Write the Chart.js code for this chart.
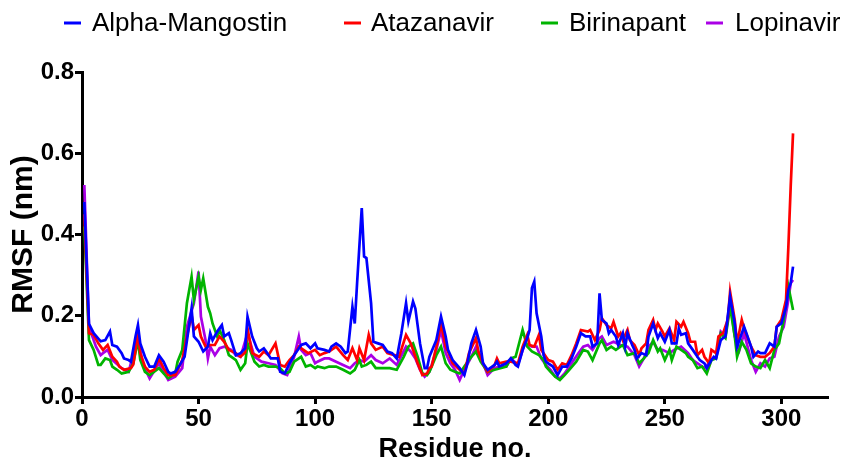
<!DOCTYPE html>
<html>
<head>
<meta charset="utf-8">
<script src="https://cdn.jsdelivr.net/npm/chart.js@4.4.1/dist/chart.umd.min.js"></script>
<style>
  body { margin: 0; background: #fff; }
</style>
</head>
<body>
<canvas id="rmsfChart" width="844" height="463"></canvas>
<script>
// residue no. , RMSF (nm)
const alphaMangostin = [[1,.48],[3,.18],[5,.157],[8,.137],[10,.14],[12,.161],[13,.128],[15,.124],[17,.108],[18,.095],[20,.091],[21,.087],[23,.15],[24,.177],[25,.132],[27,.099],[29,.075],[31,.075],[33,.103],[35,.087],[37,.062],[38,.058],[40,.062],[42,.079],[44,.099],[47,.218],[48,.149],[50,.136],[52,.112],[54,.124],[55,.157],[56,.14],[58,.161],[60,.177],[61,.149],[63,.157],[64,.14],[66,.103],[68,.108],[70,.12],[71,.198],[73,.149],[75,.12],[76,.112],[78,.12],[79,.112],[81,.095],[84,.095],[85,.062],[87,.058],[89,.083],[91,.103],[94,.128],[96,.132],[98,.12],[100,.132],[101,.12],[104,.116],[106,.112],[107,.124],[109,.132],[111,.124],[113,.108],[114,.112],[116,.222],[117,.181],[118,.28],[120,.465],[121,.346],[122,.342],[124,.231],[125,.136],[127,.132],[129,.128],[131,.112],[133,.108],[135,.095],[137,.157],[139,.231],[140,.186],[142,.235],[143,.218],[145,.132],[147,.071],[148,.071],[149,.099],[152,.14],[154,.198],[156,.149],[157,.116],[159,.091],[162,.071],[164,.054],[165,.075],[167,.132],[169,.165],[171,.124],[172,.083],[174,.067],[177,.079],[178,.087],[179,.075],[182,.083],[184,.095],[186,.079],[187,.075],[189,.116],[191,.145],[192,.165],[193,.268],[194,.284],[195,.206],[197,.149],[198,.103],[199,.087],[200,.083],[202,.075],[204,.054],[206,.075],[208,.075],[210,.095],[212,.124],[214,.157],[216,.149],[218,.149],[219,.124],[221,.132],[222,.255],[223,.19],[225,.181],[226,.157],[227,.165],[229,.149],[230,.128],[232,.157],[233,.124],[234,.157],[236,.128],[237,.116],[238,.095],[240,.108],[242,.103],[243,.149],[245,.181],[247,.145],[248,.157],[250,.136],[252,.165],[253,.132],[255,.132],[256,.169],[257,.153],[259,.157],[260,.132],[262,.116],[264,.099],[265,.091],[267,.083],[268,.071],[270,.091],[271,.099],[272,.095],[274,.14],[275,.145],[276,.149],[278,.247],[280,.181],[281,.124],[282,.14],[284,.173],[285,.157],[287,.124],[288,.099],[290,.112],[291,.108],[293,.108],[295,.132],[297,.124],[298,.173],[300,.181],[302,.222],[303,.264],[304,.28],[305,.321]];

const atazanavir = [[1,.45],[3,.157],[5,.153],[7,.132],[9,.116],[11,.128],[13,.099],[15,.087],[16,.075],[18,.067],[21,.071],[22,.08],[24,.157],[25,.108],[27,.075],[29,.062],[31,.067],[33,.095],[35,.071],[37,.054],[40,.054],[43,.091],[45,.149],[47,.202],[48,.165],[50,.177],[51,.149],[53,.124],[55,.128],[57,.128],[59,.149],[61,.136],[63,.116],[66,.108],[68,.099],[70,.11],[71,.169],[73,.108],[76,.099],[78,.112],[80,.103],[83,.132],[85,.079],[87,.075],[89,.091],[91,.103],[93,.124],[95,.116],[97,.108],[100,.116],[102,.103],[104,.108],[106,.112],[109,.124],[112,.103],[114,.091],[116,.12],[118,.091],[119,.12],[121,.091],[123,.153],[124,.132],[126,.116],[129,.124],[131,.108],[134,.103],[136,.099],[139,.153],[141,.132],[142,.116],[144,.083],[146,.054],[148,.058],[149,.071],[150,.075],[152,.124],[154,.181],[156,.124],[157,.112],[159,.083],[162,.067],[164,.058],[166,.108],[169,.145],[170,.112],[172,.083],[174,.062],[177,.079],[178,.095],[179,.083],[182,.087],[184,.087],[187,.083],[189,.124],[191,.153],[192,.128],[194,.124],[196,.153],[197,.116],[199,.099],[200,.091],[202,.087],[204,.067],[206,.083],[208,.079],[210,.103],[212,.132],[214,.165],[217,.161],[218,.165],[220,.14],[222,.165],[223,.194],[225,.177],[227,.169],[228,.185],[230,.149],[231,.157],[232,.14],[234,.165],[235,.14],[237,.128],[239,.103],[240,.12],[242,.132],[243,.165],[245,.19],[246,.165],[247,.181],[249,.161],[250,.149],[252,.169],[254,.14],[255,.185],[257,.173],[258,.185],[260,.157],[261,.136],[263,.136],[264,.103],[266,.116],[267,.099],[269,.083],[270,.116],[272,.108],[273,.149],[275,.157],[277,.19],[278,.259],[280,.19],[281,.132],[283,.19],[284,.169],[287,.124],[289,.103],[291,.099],[293,.099],[295,.108],[297,.124],[298,.173],[300,.19],[302,.239],[303,.37],[304,.518],[305,.649]];

const birinapant = [[1,.42],[3,.14],[5,.116],[7,.079],[8,.079],[10,.095],[12,.091],[13,.075],[15,.067],[17,.058],[20,.062],[22,.083],[24,.14],[25,.091],[27,.062],[29,.054],[33,.071],[35,.058],[37,.046],[40,.058],[41,.087],[43,.116],[45,.231],[47,.296],[48,.239],[50,.296],[51,.264],[52,.292],[54,.222],[55,.206],[56,.181],[58,.149],[59,.165],[61,.14],[63,.103],[65,.095],[66,.091],[68,.067],[70,.083],[71,.132],[74,.087],[76,.075],[78,.079],[80,.075],[83,.075],[85,.071],[87,.058],[89,.062],[91,.087],[94,.099],[96,.075],[98,.079],[100,.071],[101,.075],[104,.071],[106,.075],[109,.075],[112,.067],[115,.058],[117,.067],[119,.091],[120,.075],[122,.079],[124,.087],[126,.071],[129,.071],[132,.071],[135,.067],[138,.099],[140,.124],[142,.132],[144,.099],[146,.058],[148,.054],[149,.062],[150,.075],[152,.103],[154,.124],[156,.083],[158,.067],[160,.062],[162,.058],[164,.075],[167,.099],[169,.112],[171,.087],[174,.062],[177,.067],[182,.075],[184,.095],[186,.099],[189,.165],[191,.124],[193,.112],[196,.103],[198,.091],[199,.075],[201,.062],[203,.05],[205,.042],[207,.054],[209,.067],[212,.087],[215,.116],[217,.112],[219,.091],[222,.132],[223,.14],[225,.116],[227,.124],[229,.116],[232,.128],[234,.103],[237,.108],[239,.083],[241,.095],[243,.108],[245,.14],[247,.112],[248,.12],[250,.091],[252,.116],[253,.091],[255,.124],[257,.116],[259,.108],[260,.099],[262,.091],[264,.071],[266,.075],[268,.058],[270,.091],[272,.095],[274,.157],[276,.145],[278,.222],[280,.149],[281,.099],[283,.136],[285,.116],[287,.083],[289,.075],[291,.071],[293,.091],[295,.071],[297,.116],[299,.132],[301,.19],[303,.272],[305,.214]];

const lopinavir = [[1,.522],[3,.173],[6,.124],[8,.103],[9,.108],[11,.116],[13,.091],[17,.071],[20,.062],[24,.149],[26,.083],[29,.046],[33,.083],[37,.042],[40,.05],[43,.071],[45,.173],[48,.231],[50,.309],[51,.198],[53,.14],[54,.095],[55,.124],[57,.103],[59,.12],[61,.124],[64,.116],[66,.103],[68,.099],[71,.157],[74,.099],[77,.087],[80,.083],[83,.079],[86,.058],[88,.054],[90,.083],[91,.099],[93,.149],[94,.116],[96,.103],[98,.108],[100,.083],[101,.087],[104,.095],[106,.095],[109,.087],[112,.079],[115,.071],[117,.083],[119,.091],[121,.087],[124,.103],[126,.091],[129,.083],[132,.095],[135,.079],[139,.124],[141,.112],[143,.095],[145,.067],[147,.05],[149,.062],[150,.079],[152,.116],[154,.165],[156,.108],[158,.083],[160,.067],[162,.042],[164,.067],[167,.099],[169,.124],[171,.099],[174,.054],[177,.071],[179,.075],[182,.075],[184,.095],[187,.079],[190,.132],[193,.124],[195,.124],[197,.095],[199,.079],[201,.067],[203,.05],[205,.046],[207,.058],[210,.083],[213,.108],[215,.124],[217,.128],[219,.116],[222,.145],[223,.149],[225,.128],[228,.136],[231,.128],[234,.124],[237,.103],[239,.075],[241,.095],[243,.124],[245,.136],[247,.116],[249,.116],[252,.108],[254,.116],[257,.124],[260,.108],[262,.091],[265,.079],[267,.071],[270,.091],[272,.099],[274,.161],[276,.149],[278,.235],[280,.149],[282,.116],[284,.157],[287,.091],[289,.062],[291,.083],[293,.075],[295,.095],[297,.099],[299,.149],[301,.173],[303,.239],[304,.28],[305,.288]];

const seriesNames = ["Alpha-Mangostin", "Atazanavir", "Birinapant", "Lopinavir"];
const seriesColors = ["#0000ff", "#ff0000", "#00b400", "#aa00e6"];
const xTicks = [0, 50, 100, 150, 200, 250, 300];
const yTicks = [0, 0.2, 0.4, 0.6, 0.8];

document.addEventListener("DOMContentLoaded", () => {
  const toPoints = arr => arr.map(p => ({ x: p[0], y: p[1] }));
  const allSeries = [alphaMangostin, atazanavir, birinapant, lopinavir];

  // legend drawn by hand, Prism style spacing (mark x, text x)
  const legendMarkX = [64, 344, 541, 706];
  const legendTextX = [92, 371, 569, 735];
  const topLegend = {
    id: "topLegend",
    afterDraw(chart) {
      const ctx = chart.ctx;
      ctx.save();
      ctx.font = "26px 'Liberation Sans', Arial, sans-serif";
      ctx.textBaseline = "middle";
      seriesNames.forEach((name, i) => {
        ctx.strokeStyle = seriesColors[i];
        ctx.lineWidth = 3;
        ctx.beginPath();
        ctx.moveTo(legendMarkX[i], 23);
        ctx.lineTo(legendMarkX[i] + 17, 23);
        ctx.stroke();
        ctx.fillStyle = "#000";
        ctx.fillText(name, legendTextX[i], 24);
      });
      ctx.restore();
    }
  };

  const fam = "'Liberation Sans', Arial, sans-serif";

  new Chart(document.getElementById("rmsfChart").getContext("2d"), {
    type: "line",
    data: {
      datasets: allSeries.map((s, i) => ({
        label: seriesNames[i],
        data: toPoints(s),
        borderColor: seriesColors[i],
        backgroundColor: seriesColors[i],
        borderWidth: 2.7,
        pointRadius: 0,
        tension: 0,
        fill: false
      }))
    },
    options: {
      responsive: false,
      animation: false,
      devicePixelRatio: 1,
      layout: { padding: { top: 72, right: 16, left: 0, bottom: 0 } },
      plugins: {
        legend: { display: false },
        tooltip: { enabled: false }
      },
      scales: {
        x: {
          type: "linear",
          min: 0,
          max: 320,
          afterBuildTicks: axis => { axis.ticks = xTicks.map(v => ({ value: v })); },
          afterFit: axis => { axis.height = 66; },
          border: { display: true, width: 3, color: "#000" },
          grid: { display: true, drawOnChartArea: false, drawTicks: true, tickLength: 7, tickWidth: 3, tickColor: "#000" },
          ticks: { color: "#000", font: { family: "'Liberation Sans Narrow', " + fam, size: 24, weight: "bold" }, padding: 1, maxRotation: 0 },
          title: {
            display: true,
            text: "Residue no.",
            color: "#000",
            font: { family: fam, size: 27, weight: "bold", lineHeight: 1 },
            padding: { top: 0, bottom: 0 }
          }
        },
        y: {
          min: 0,
          max: 0.8,
          afterBuildTicks: axis => { axis.ticks = yTicks.map(v => ({ value: v })); },
          afterFit: axis => { axis.width = 82; },
          border: { display: true, width: 3, color: "#000" },
          grid: { display: true, drawOnChartArea: false, drawTicks: true, tickLength: 7, tickWidth: 3, tickColor: "#000" },
          ticks: { color: "#000", font: { family: fam, size: 24, weight: "bold" }, padding: 1, callback: v => v.toFixed(1) },
          title: {
            display: true,
            text: "RMSF (nm)",
            color: "#000",
            font: { family: fam, size: 30, weight: "bold" },
            padding: { top: 6, bottom: 0 }
          }
        }
      }
    },
    plugins: [topLegend]
  });
});
</script>
</body>
</html>
